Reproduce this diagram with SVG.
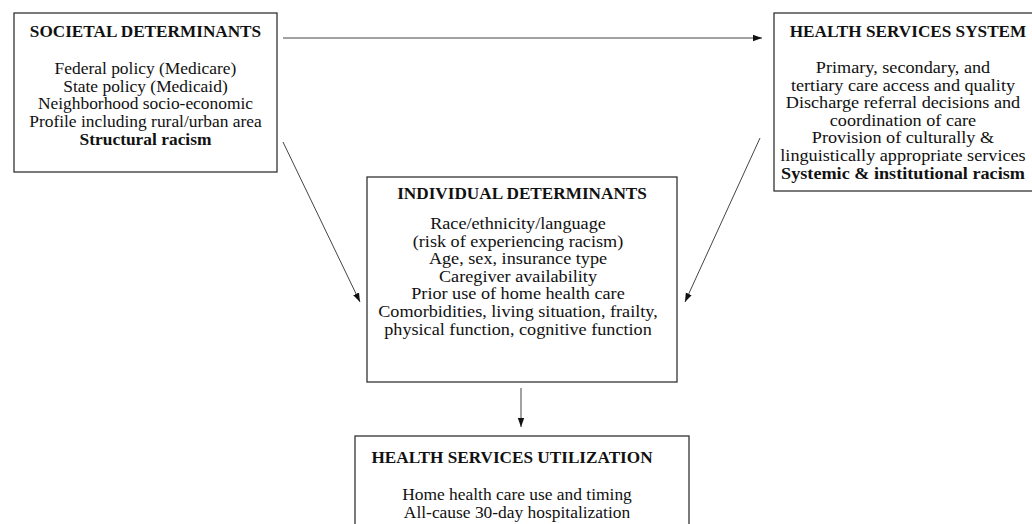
<svg xmlns="http://www.w3.org/2000/svg" width="1032" height="524" viewBox="0 0 1032 524">
<defs>
<marker id="ah" markerUnits="userSpaceOnUse" markerWidth="10" markerHeight="8" refX="9" refY="4" orient="auto">
<path d="M0,0.8 L9,4 L0,7.2 Z" fill="#111"/>
</marker>
<style>
.box{fill:#fff;stroke:#333;stroke-width:1.3}
.t{font-family:"Liberation Serif","Times New Roman",serif;font-size:17px;fill:#111;text-anchor:middle}
.h{font-weight:bold;font-size:17.2px}
.bb{font-weight:bold}
.c{fill:none;stroke:#444;stroke-width:1}
</style>
</defs>
<rect width="1032" height="524" fill="#fff"/>
<g id="connectors">
<line class="c" x1="283" y1="38" x2="762" y2="38" marker-end="url(#ah)"/>
<line class="c" x1="283" y1="142" x2="360" y2="302" marker-end="url(#ah)"/>
<line class="c" x1="760" y1="138" x2="685" y2="302" marker-end="url(#ah)"/>
<line class="c" x1="521" y1="388" x2="521" y2="427" marker-end="url(#ah)"/>
</g>
<g id="societal">
<rect class="box" x="14" y="13" width="263" height="159"/>
<text class="t h" x="145.5" y="37">SOCIETAL DETERMINANTS</text>
<g transform="matrix(1.025 0 0 1 -3.64 0)">
<text class="t" x="145.5" y="74">Federal policy (Medicare)</text>
<text class="t" x="145.5" y="91.6">State policy (Medicaid)</text>
<text class="t" x="145.5" y="109.2">Neighborhood socio-economic</text>
<text class="t" x="145.5" y="126.8">Profile including rural/urban area</text>
<text class="t bb" x="145.5" y="145">Structural racism</text>
</g>
</g>
<g id="health-services-system">
<rect class="box" x="774" y="13" width="280" height="178"/>
<text class="t h" x="908" y="37">HEALTH SERVICES SYSTEM</text>
<g transform="matrix(1.07 0 0 1 -63.21 0)">
<text class="t" x="903" y="73">Primary, secondary, and</text>
<text class="t" x="903" y="90.6">tertiary care access and quality</text>
<text class="t" x="903" y="108.2">Discharge referral decisions and</text>
<text class="t" x="903" y="125.8">coordination of care</text>
<text class="t" x="903" y="143.4">Provision of culturally &amp;</text>
<text class="t" x="903" y="161">linguistically appropriate services</text>
<text class="t bb" x="903" y="178.8">Systemic &amp; institutional racism</text>
</g>
</g>
<g id="individual">
<rect class="box" x="367" y="177" width="310" height="205"/>
<text class="t h" x="522" y="199">INDIVIDUAL DETERMINANTS</text>
<g transform="matrix(1.07 0 0 1 -36.26 0)">
<text class="t" x="518" y="229">Race/ethnicity/language</text>
<text class="t" x="518" y="246.6">(risk of experiencing racism)</text>
<text class="t" x="518" y="264.2">Age, sex, insurance type</text>
<text class="t" x="518" y="281.8">Caregiver availability</text>
<text class="t" x="518" y="299.4">Prior use of home health care</text>
<text class="t" x="518" y="317">Comorbidities, living situation, frailty,</text>
<text class="t" x="518" y="334.6">physical function, cognitive function</text>
</g>
</g>
<g id="utilization">
<rect class="box" x="355" y="436" width="334" height="100"/>
<text class="t h" x="512" y="463">HEALTH SERVICES UTILIZATION</text>
<g transform="matrix(1.025 0 0 1 -12.93 0)">
<text class="t" x="517" y="500">Home health care use and timing</text>
<text class="t" x="517" y="518">All-cause 30-day hospitalization</text>
</g>
</g>
</svg>
